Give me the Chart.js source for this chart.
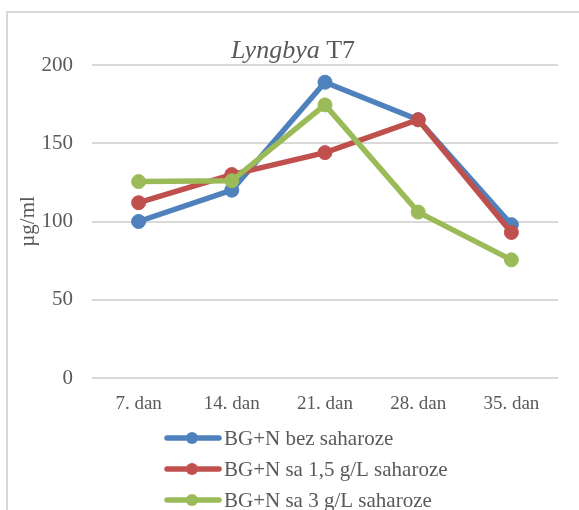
<!DOCTYPE html>
<html>
<head>
<meta charset="utf-8">
<script src="https://cdn.jsdelivr.net/npm/chart.js@4"></script>
<style>
  html, body { margin: 0; padding: 0; background: #fff; }
  #wrap { width: 579px; height: 510px; }
</style>
</head>
<body>
<div id="wrap"><canvas id="chart" width="579" height="510"></canvas></div>
<script>
const labels = ['7. dan', '14. dan', '21. dan', '28. dan', '35. dan'];
const bezSaharoze = [100, 120, 189, 165, 98];
const sa15 = [112, 130, 144, 165, 93];
const sa3 = [125.5, 126, 174.5, 106, 75.5];
const seriesNames = ['BG+N bez saharoze', 'BG+N sa 1,5 g/L saharoze', 'BG+N sa 3 g/L saharoze'];
const yTicks = [0, 50, 100, 150, 200];

const colors = ['#4f81bd', '#c0504d', '#9bbb59'];
const serif = '"Liberation Serif", "Times New Roman", serif';
const textColor = '#595959';

// later series are painted on top, like in the original
function makeSet(name, values, color, order) {
    return {
        label: name,
        data: values,
        order: order,
        borderColor: color,
        backgroundColor: color,
        pointBackgroundColor: color,
        pointBorderColor: color,
        borderWidth: 5.5,
        pointRadius: 7,
        pointBorderWidth: 1,
        tension: 0
    };
}

// frame, title with italic genus name, vertical legend
const decor = {
    id: 'decor',
    beforeDraw(chart) {
        const ctx = chart.ctx;
        ctx.save();
        ctx.strokeStyle = '#d9d9d9';
        ctx.lineWidth = 2;
        ctx.beginPath();
        ctx.moveTo(7, 510);
        ctx.lineTo(7, 12);
        ctx.lineTo(579, 12);
        ctx.stroke();
        ctx.restore();
    },
    afterDraw(chart) {
        const ctx = chart.ctx;
        ctx.save();
        ctx.fillStyle = textColor;
        ctx.textBaseline = 'alphabetic';
        ctx.font = 'italic 26px ' + serif;
        const a = 'Lyngbya';
        const wa = ctx.measureText(a).width;
        ctx.font = '26px ' + serif;
        const b = ' T7';
        const wb = ctx.measureText(b).width;
        let x = 293 - (wa + wb) / 2;
        ctx.font = 'italic 26px ' + serif;
        ctx.fillText(a, x, 58);
        ctx.font = '26px ' + serif;
        ctx.fillText(b, x + wa, 58);

        // legend
        ctx.font = '21px ' + serif;
        ctx.textBaseline = 'middle';
        chart.data.datasets.forEach((ds, i) => {
            const y = 438 + i * 31;
            ctx.strokeStyle = ds.borderColor;
            ctx.lineWidth = 5.5;
            ctx.lineCap = 'round';
            ctx.beginPath();
            ctx.moveTo(167, y);
            ctx.lineTo(219, y);
            ctx.stroke();
            ctx.fillStyle = ds.borderColor;
            ctx.beginPath();
            ctx.arc(192, y, 6, 0, Math.PI * 2);
            ctx.fill();
            ctx.fillStyle = textColor;
            ctx.fillText(ds.label, 224, y + 1);
        });
        ctx.restore();
    }
};

new Chart(document.getElementById('chart'), {
    type: 'line',
    data: {
        labels: labels,
        datasets: [
            makeSet(seriesNames[0], bezSaharoze, colors[0], 2),
            makeSet(seriesNames[1], sa15, colors[1], 1),
            makeSet(seriesNames[2], sa3, colors[2], 0)
        ]
    },
    options: {
        responsive: false,
        animation: false,
        layout: { padding: { top: 65, right: 21, left: 0, bottom: 92 } },
        plugins: {
            legend: { display: false },
            title: { display: false },
            tooltip: { enabled: false }
        },
        scales: {
            x: {
                offset: true,
                afterFit(scale) { scale.height = 40; },
                grid: { display: false, drawTicks: false },
                border: { display: false },
                ticks: { color: textColor, padding: 15, font: { family: serif, size: 19 } }
            },
            y: {
                min: 0,
                max: 200,
                afterFit(scale) { scale.width = 92; },
                afterBuildTicks(scale) { scale.ticks = yTicks.map(v => ({ value: v })); },
                grid: { color: '#d9d9d9', lineWidth: 2, drawTicks: false },
                border: { display: false },
                ticks: { color: textColor, padding: 19, font: { family: serif, size: 21 } },
                title: {
                    display: true,
                    text: 'µg/ml',
                    color: textColor,
                    padding: { top: 16, bottom: 0 },
                    font: { family: serif, size: 21 }
                }
            }
        }
    },
    plugins: [decor]
});
</script>
</body>
</html>
